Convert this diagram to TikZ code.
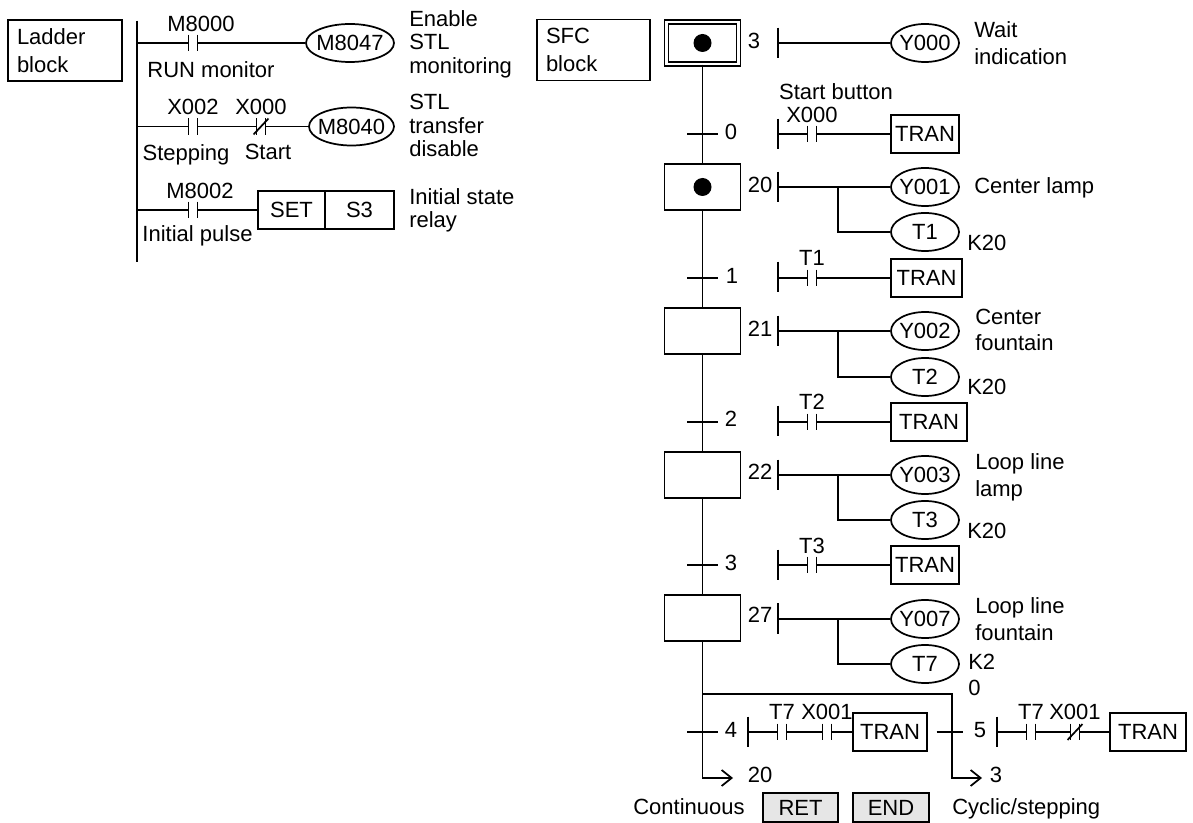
\documentclass[tikz,border=0pt]{standalone}
\usepackage{fontspec}
\setmainfont{Liberation Sans}
\usetikzlibrary{arrows.meta,shapes.geometric}
\definecolor{retgray}{HTML}{E6E6E6}

\begin{document}
\begin{tikzpicture}[x=0.75pt, y=-0.75pt, >={Straight Barb[length=7.5pt,width=12pt]},
    font=\fontsize{16.5}{17.6}\selectfont,
    wire/.style={line width=1.3pt},
    lbl/.style={inner sep=0pt, text height=11.8pt, text depth=0pt},
    lblw/.style={lbl, anchor=west},
    note/.style={anchor=north west, inner sep=0pt, align=left},
    blockbox/.style={draw, wire, align=left, text width=72pt, inner xsep=6.75pt, minimum height=45.75pt},
    coil/.style={draw, wire, ellipse, lbl, inner xsep=-12pt, minimum width=51pt, minimum height=28.5pt},
    tranbox/.style={draw, wire, lbl, inner xsep=0pt, minimum width=51pt, minimum height=28.5pt},
    sfcstep/.style={draw, wire, inner sep=0pt, minimum width=57pt, minimum height=34.5pt},
    initstep/.style={draw, line width=1.1pt, double, double distance=1.9pt, inner sep=0pt, minimum width=54pt, minimum height=31.5pt},
    activedot/.style={circle, fill=black, inner sep=0pt, minimum size=13.5pt},
    rail/.style={inner sep=0pt, minimum height=22.5pt,
      append after command={(\tikzlastnode.north) edge[draw, wire] (\tikzlastnode.south)}},
    tick/.style={inner sep=0pt, minimum width=22.5pt,
      append after command={(\tikzlastnode.west) edge[draw, wire] (\tikzlastnode.east)}},
    contact/.style={inner sep=0pt, minimum width=6.2pt, minimum height=12pt,
      append after command={(\tikzlastnode.north west) edge[draw, wire] (\tikzlastnode.south west)
        (\tikzlastnode.north east) edge[draw, wire] (\tikzlastnode.south east)}},
    nccontact/.style={contact,
      append after command={([shift={(-5.6pt,-6pt)}]\tikzlastnode.center) edge[draw, wire] ([shift={(5.6pt,6pt)}]\tikzlastnode.center)}}]

  \useasboundingbox (0,0) rectangle (1193,823);

  % ladder block
  \node[blockbox] (ladder) at (65,50.5) {Ladder\\[3.4pt]block};
  \node[rail, minimum height=180.75pt] (lrail) at (137,141.5) {};

  \node[contact] (m8000) at (193,43) {};
  \node[coil, minimum width=66pt] (m8047) at (350,43) {M8047};
  \draw[wire] (lrail.center |- m8000) -- (m8000.west);
  \draw[wire] (m8000.east) -- (m8047.west);
  \node[lbl] (m8000t) at (201,24) {M8000};
  \node[lbl] (runt) at (211,70) {RUN monitor};
  \node[note] (m8047t) at (409,10) {Enable\\STL\\monitoring};

  \node[contact] (x002) at (193,126.5) {};
  \node[nccontact] (x000) at (261,126.5) {};
  \node[coil, minimum width=63.75pt] (m8040) at (351.5,126.5) {M8040};
  \draw[wire] (lrail.center |- x002) -- (x002.west);
  \draw[wire] (x002.east) -- (x000.west);
  \draw[wire] (x000.east) -- (m8040.west);
  \node[lbl] (x002t) at (193,107) {X002};
  \node[lbl] (x000t) at (261,107) {X000};
  \node[lbl] (stept) at (186,153) {Stepping};
  \node[lbl] (startt) at (268,152) {Start};
  \node[note] (m8040t) at (409,94) {STL\\transfer\\disable};

  \node[contact] (m8002) at (193,210) {};
  \node[tranbox, minimum width=50.25pt] (setb) at (291.5,210) {SET};
  \node[tranbox, minimum width=51.75pt] (s3b) at (359.5,210) {S3};
  \draw[wire] (lrail.center |- m8002) -- (m8002.west);
  \draw[wire] (m8002.east) -- (setb.west);
  \node[lbl] (m8002t) at (200,191) {M8002};
  \node[lbl] (pulset) at (197.5,234) {Initial pulse};
  \node[note] (s3t) at (409,188) {Initial state\\relay};

  % SFC block
  \node[blockbox, text width=71.25pt] (sfc) at (593.5,50) {SFC\\[4pt]block};

  \node[initstep] (st3) at (702.5,43) {};
  \node[activedot] (dot3) at (702.5,43) {};
  \node[lbl] (st3t) at (754,41) {3};
  \node[rail] (r3) at (778,43) {};
  \node[coil] (y000) at (925,43) {Y000};
  \draw[wire] (r3.center) -- (y000.west);
  \node[note] (y000t) at (974,21) {Wait\\[2.6pt]indication};

  \node[tick] (tr0) at (702.5,134) {};
  \node[lbl] (tr0t) at (731,132) {0};
  \node[rail] (r0) at (778,134) {};
  \node[contact] (x000b) at (812,134) {};
  \node[tranbox] (tran0) at (925,134) {TRAN};
  \draw[wire] (r0.center) -- (x000b.west);
  \draw[wire] (x000b.east) -- (tran0.west);
  \node[lbl] (btnt) at (836,92) {Start button};
  \node[lbl] (x000bt) at (812,115) {X000};

  \node[sfcstep] (st20) at (702.5,187) {};
  \node[activedot] (dot20) at (702.5,187) {};
  \node[lbl] (st20t) at (760,185) {20};
  \node[rail] (r20) at (778,187) {};
  \node[coil] (y001) at (925,187) {Y001};
  \node[coil] (tm1) at (925,232) {T1};
  \coordinate (j20) at (838,187);
  \draw[wire] (r20.center) -- (y001.west);
  \draw[wire] (j20) |- (tm1.west);
  \node[lblw] (y001t) at (974,186) {Center lamp};
  \node[lblw] (tm1t) at (967,243) {K20};
  \draw[wire] (st3.south) -- (st20.north);

  \node[tick] (tr1) at (702.5,278) {};
  \node[lbl] (tr1t) at (732,276) {1};
  \node[rail] (r1) at (778,277) {};
  \node[contact] (t1c) at (812,278) {};
  \node[tranbox, minimum width=53.25pt] (tran1) at (926.5,278) {TRAN};
  \draw[wire] (r1.center |- t1c) -- (t1c.west);
  \draw[wire] (t1c.east) -- (tran1.west);
  \node[lbl] (t1ct) at (812,258) {T1};

  \node[sfcstep] (st21) at (702.5,331) {};
  \node[lbl] (st21t) at (760,329) {21};
  \node[rail] (r21) at (778,331) {};
  \node[coil] (y002) at (925,331) {Y002};
  \node[coil] (tm2) at (925,377) {T2};
  \coordinate (j21) at (838,331);
  \draw[wire] (r21.center) -- (y002.west);
  \draw[wire] (j21) |- (tm2.west);
  \node[note] (y002t) at (975,309) {Center\\[2pt]fountain};
  \node[lblw] (tm2t) at (967,387) {K20};
  \draw[wire] (st20.south) -- (st21.north);

  \node[tick] (tr2) at (702.5,422) {};
  \node[lbl] (tr2t) at (731,419) {2};
  \node[rail] (r2) at (778,421) {};
  \node[contact] (t2c) at (812,422) {};
  \node[tranbox, minimum width=57pt] (tran2) at (929,422) {TRAN};
  \draw[wire] (r2.center |- t2c) -- (t2c.west);
  \draw[wire] (t2c.east) -- (tran2.west);
  \node[lbl] (t2ct) at (812,402) {T2};

  \node[sfcstep] (st22) at (702.5,475) {};
  \node[lbl] (st22t) at (760,472) {22};
  \node[rail] (r22) at (778,475) {};
  \node[coil] (y003) at (925,475) {Y003};
  \node[coil] (tm3) at (925,520) {T3};
  \coordinate (j22) at (838,475);
  \draw[wire] (r22.center) -- (y003.west);
  \draw[wire] (j22) |- (tm3.west);
  \node[note] (y003t) at (975,453) {Loop line\\[2.6pt]lamp};
  \node[lblw] (tm3t) at (967,531) {K20};
  \draw[wire] (st21.south) -- (st22.north);

  \node[tick] (tr3) at (702.5,565) {};
  \node[lbl] (tr3t) at (731,563) {3};
  \node[rail] (r3t) at (778,565) {};
  \node[contact] (t3c) at (812,565) {};
  \node[tranbox] (tran3) at (925,565) {TRAN};
  \draw[wire] (r3t.center) -- (t3c.west);
  \draw[wire] (t3c.east) -- (tran3.west);
  \node[lbl] (t3ct) at (812,546) {T3};

  \node[sfcstep] (st27) at (702.5,618) {};
  \node[lbl] (st27t) at (760,615) {27};
  \node[rail] (r27) at (778,618.5) {};
  \node[coil] (y007) at (925,619) {Y007};
  \node[coil] (tm7) at (925,664) {T7};
  \coordinate (j27) at (838,619);
  \draw[wire] (r27.center |- y007) -- (y007.west);
  \draw[wire] (j27) |- (tm7.west);
  \node[note] (y007t) at (975,597) {Loop line\\[2.6pt]fountain};
  \node[note] (tm7t) at (968,654) {K2\\[2pt]0};
  \draw[wire] (st22.south) -- (st27.north);

  % two branches at the end
  \coordinate (br) at (702.5,694);
  \coordinate (cont) at (952,778);
  \coordinate (e20) at (733,778);
  \coordinate (e3) at (982,778);
  \draw[wire, ->] (st27.south) |- (e20);
  \draw[wire, ->] (br) -| (cont) -- (e3);

  \node[tick] (tr4) at (702.5,732) {};
  \node[lbl] (tr4t) at (731,730) {4};
  \node[rail] (r4) at (748,732) {};
  \node[contact] (t7a) at (782,732) {};
  \node[contact] (x001a) at (827,732) {};
  \node[tranbox, minimum width=55.5pt] (tran4) at (890,732) {TRAN};
  \draw[wire] (r4.center) -- (t7a.west);
  \draw[wire] (t7a.east) -- (x001a.west);
  \draw[wire] (x001a.east) -- (tran4.west);
  \node[lbl] (t7at) at (782,712) {T7};
  \node[lbl] (x001at) at (827,712) {X001};

  \node[tick, minimum width=19.5pt] (tr5) at (950,732) {};
  \node[lbl] (tr5t) at (980,730) {5};
  \node[rail] (r5) at (997,732) {};
  \node[contact] (t7b) at (1031,732) {};
  \node[nccontact] (x001b) at (1075,732) {};
  \node[tranbox, minimum width=57pt] (tran5) at (1148,732) {TRAN};
  \draw[wire] (r5.center) -- (t7b.west);
  \draw[wire] (t7b.east) -- (x001b.west);
  \draw[wire] (x001b.east) -- (tran5.west);
  \node[lbl] (t7bt) at (1031,712) {T7};
  \node[lbl] (x001bt) at (1075,712) {X001};

  \node[lbl] (e20t) at (760,775) {20};
  \node[lbl] (e3t) at (996,775) {3};
  \node[lbl] (contt) at (689,807) {Continuous};
  \node[tranbox, fill=retgray, minimum width=56.25pt, minimum height=21.75pt] (ret) at (800.5,807.5) {RET};
  \node[tranbox, fill=retgray, minimum width=57pt, minimum height=21.75pt] (endb) at (891,807.5) {END};
  \node[lblw] (cyct) at (952,807) {Cyclic/stepping};
\end{tikzpicture}
\end{document}
